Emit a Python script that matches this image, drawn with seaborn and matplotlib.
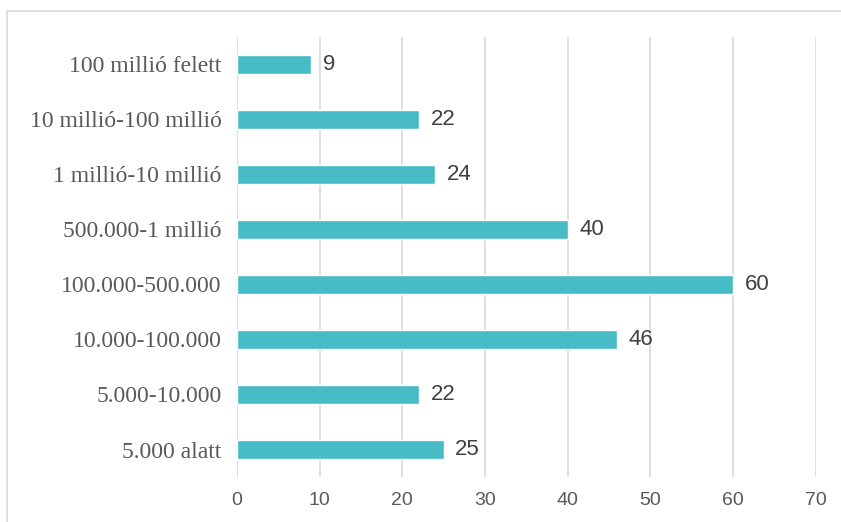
import matplotlib.pyplot as plt
import matplotlib.patches as mpatches
import pandas as pd
import seaborn as sns

categories = ['100 millió felett', '10 millió-100 millió', '1 millió-10 millió',
              '500.000-1 millió', '100.000-500.000', '10.000-100.000',
              '5.000-10.000', '5.000 alatt']
values = [9, 22, 24, 40, 60, 46, 22, 25]
xticks = [0, 10, 20, 30, 40, 50, 60, 70]

df = pd.DataFrame({'kat': categories, 'db': values})

sns.set_theme(style='white')
plt.rcParams['font.family'] = ['Liberation Sans', 'DejaVu Sans']

fig = plt.figure(figsize=(8.41, 5.22), dpi=100)
ax = fig.add_axes([0.2818, 0.0862, 0.688, 0.843])

sns.barplot(data=df, x='db', y='kat', orient='h', color='#48BCC6',
            saturation=1, width=0.36, ax=ax, zorder=3)

ax.set_xlim(0, 70)
ax.set_xticks(xticks)
ax.set_xticklabels([str(t) for t in xticks], fontsize=14, color='#595959')
ax.set_xlabel('')
ax.set_ylabel('')
ax.set_yticks(range(len(categories)))
ax.set_yticklabels(categories, fontsize=17, color='#595959',
                   family='Liberation Serif')
ax.tick_params(axis='both', length=0)
ax.tick_params(axis='x', pad=11)
ax.tick_params(axis='y', pad=11)
ax.grid(axis='x', color='#D9D9D9', linewidth=1.2, zorder=0)
for s in ax.spines.values():
    s.set_visible(False)

for i, v in enumerate(values):
    ax.text(v + 1.4, i, str(v), va='center', ha='left', fontsize=16, color='#404040')

fig.patches.append(mpatches.Rectangle((7 / 841, -0.1), 1.2, 1 - 11 / 522 + 0.1,
                                      transform=fig.transFigure, fill=False,
                                      edgecolor='#D9D9D9', linewidth=1.2))

fig.savefig('out.png', dpi=100)
